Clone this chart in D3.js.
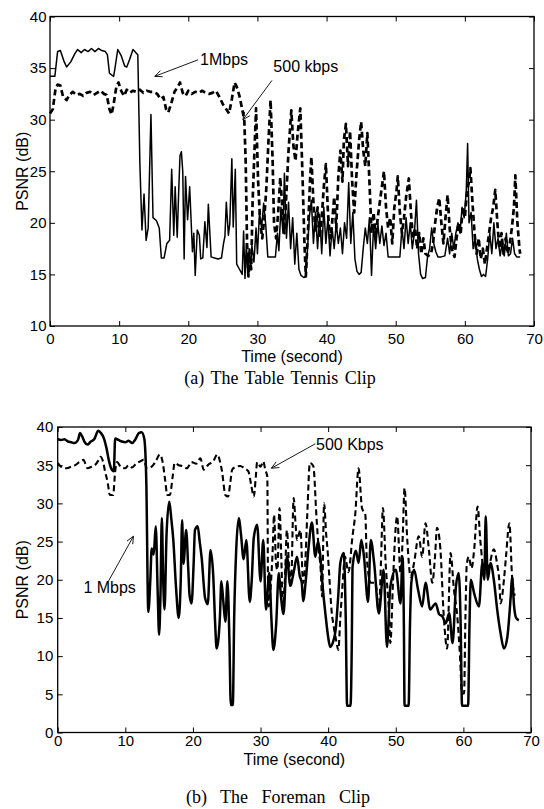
<!DOCTYPE html>
<html>
<head>
<meta charset="utf-8">
<script src="https://cdn.jsdelivr.net/npm/d3@7"></script>
<style>
  body { margin: 0; background: #fff; }
  svg { display: block; }
  text { font-family: "Liberation Sans", Arial, sans-serif; }
</style>
</head>
<body>
<div id="container"></div>
<script>
/** CONSTANTS AND GLOBALS */
const width = 544, height = 809;

const timeTicks = [0, 10, 20, 30, 40, 50, 60, 70];
const tennisTicks = [10, 15, 20, 25, 30, 35, 40];
const foremanTicks = [0, 5, 10, 15, 20, 25, 30, 35, 40];

// (a) Table Tennis, 1 Mbps  [time s, PSNR dB]
const tennis1M = [[0,34.2],[0.7,34.2],[1.1,36.6],[1.5,36.7],[2.0,35.7],[2.4,35.1],[3.0,35.6],[3.6,36.4],[4.0,36.8],[4.5,36.5],[5.0,36.8],[5.5,36.6],[6.0,36.9],[6.5,36.6],[7.0,36.9],[7.5,36.7],[8.0,36.6],[8.3,36.3],[8.6,34.5],[9.2,34.2],[9.4,35.0],[9.8,36.8],[10.3,36.2],[10.8,35.2],[11.1,35.1],[11.5,35.8],[12.0,36.8],[12.4,36.5],[12.7,36.3],[13.0,25.7],[13.3,19.3],[13.6,22.8],[13.9,18.3],[14.2,19.5],[14.6,30.5],[14.9,20.5],[15.4,20.2],[15.8,19.5],[16.1,16.6],[16.5,16.6],[16.9,18.0],[17.3,18.3],[17.6,25.2],[17.9,18.8],[18.1,23.5],[18.4,18.6],[18.6,22.8],[18.8,26.5],[19.0,26.9],[19.2,25.0],[19.4,16.5],[19.6,24.5],[19.9,20.3],[20.2,23.5],[20.6,17.2],[20.8,19.0],[21.0,14.9],[21.3,19.3],[21.6,18.8],[21.8,16.5],[22.1,16.6],[22.4,20.1],[22.7,17.6],[22.9,21.8],[23.3,16.7],[23.8,16.6],[24.3,16.5],[24.8,16.6],[25.1,18.0],[25.3,18.7],[25.5,22.0],[25.8,18.8],[26.0,19.9],[26.3,26.2],[26.5,19.6],[26.8,25.2],[27.0,16.0],[27.4,15.5],[27.8,15.0],[28.0,19.2],[28.2,14.6],[28.4,18.0],[28.6,15.0],[28.8,17.5],[29.0,15.5],[29.2,17.8],[29.5,16.2],[29.8,19.5],[30.0,17.0],[30.3,21.0],[30.6,19.5],[30.9,21.9],[31.2,19.8],[31.5,16.7],[32.0,16.7],[32.6,16.7],[32.9,19.0],[33.1,17.3],[33.4,21.5],[33.7,19.0],[33.9,24.8],[34.2,18.5],[34.5,22.0],[34.8,17.5],[35.1,20.5],[35.4,16.0],[35.7,19.0],[36.0,15.5],[36.3,14.9],[36.7,14.7],[37.0,14.8],[37.2,17.0],[37.5,20.5],[37.8,22.2],[38.1,18.0],[38.4,21.0],[38.7,17.5],[39.0,20.8],[39.3,17.0],[39.6,21.5],[39.9,18.0],[40.2,20.5],[40.5,16.8],[40.8,19.5],[41.1,17.5],[41.4,20.0],[41.7,18.0],[42.0,19.5],[42.3,17.0],[42.6,20.0],[42.9,18.5],[43.2,23.9],[43.5,18.0],[43.8,21.0],[44.1,16.5],[44.4,15.3],[44.7,15.0],[45.0,15.2],[45.3,17.5],[45.6,19.5],[45.9,18.0],[46.2,20.5],[46.5,14.9],[46.8,19.8],[47.1,17.5],[47.4,20.0],[47.7,18.0],[48.0,19.7],[48.3,17.8],[48.6,19.0],[48.9,16.7],[49.5,16.7],[50.0,16.7],[50.6,16.7],[50.9,19.5],[51.2,17.5],[51.5,20.5],[51.8,18.0],[52.1,20.0],[52.4,17.5],[52.7,19.0],[53.0,22.2],[53.3,17.0],[53.6,15.0],[53.9,14.6],[54.3,14.7],[54.6,16.7],[54.9,17.5],[55.2,19.5],[55.5,18.0],[55.8,17.2],[56.1,16.7],[56.6,16.7],[57.1,16.8],[57.5,18.5],[57.8,17.0],[58.1,19.0],[58.4,17.5],[58.7,19.0],[59.0,20.0],[59.3,19.0],[59.6,21.5],[59.9,20.5],[60.2,23.0],[60.4,27.7],[60.6,20.0],[60.9,21.0],[61.2,17.5],[61.5,18.5],[61.8,16.5],[62.1,15.5],[62.4,14.8],[62.7,15.0],[63.0,14.8],[63.3,16.5],[63.6,19.0],[63.9,17.0],[64.2,20.0],[64.5,17.5],[64.8,18.5],[65.1,16.8],[65.4,18.0],[65.7,16.8],[66.0,19.0],[66.3,16.8],[66.6,17.0],[66.9,18.5],[67.2,17.0],[67.5,16.7],[68.0,16.7]];

// (a) Table Tennis, 500 kbps
const tennis500k = [[0,30.6],[0.4,31.0],[0.8,33.0],[1.1,33.4],[1.5,33.3],[1.9,32.2],[2.4,31.9],[2.8,32.4],[3.3,32.7],[3.8,32.4],[4.3,32.5],[4.8,32.3],[5.3,32.6],[5.8,32.7],[6.3,32.4],[6.8,32.6],[7.3,32.8],[7.8,32.5],[8.2,32.4],[8.6,31.0],[8.9,30.5],[9.2,31.5],[9.6,33.2],[9.9,33.6],[10.3,32.8],[10.7,32.3],[11.1,32.9],[11.5,32.6],[12.0,32.8],[12.5,32.7],[13.0,32.9],[13.5,32.6],[14.0,32.8],[14.5,32.7],[15.0,32.7],[15.5,32.5],[16.0,32.0],[16.4,32.2],[16.8,31.0],[17.1,30.7],[17.5,31.5],[18.0,32.7],[18.5,33.2],[18.8,33.6],[19.2,32.6],[19.6,32.3],[20.0,32.8],[20.5,32.5],[21.0,32.7],[21.5,32.6],[22.0,32.8],[22.5,32.6],[23.0,32.5],[23.5,32.6],[24.0,32.8],[24.5,32.2],[25.0,31.5],[25.5,31.0],[25.9,30.6],[26.3,32.0],[26.7,33.6],[27.0,33.2],[27.4,32.3],[27.8,31.0],[28.1,30.0],[28.3,26.0],[28.5,18.0],[28.7,14.8],[28.9,16.5],[29.1,15.5],[29.3,22.0],[29.6,27.5],[29.8,31.1],[30.1,24.0],[30.4,20.0],[30.7,18.5],[31.0,20.5],[31.3,23.5],[31.6,28.0],[31.9,31.9],[32.2,26.0],[32.4,20.0],[32.7,18.5],[33.0,21.0],[33.3,24.4],[33.6,21.5],[33.9,19.0],[34.2,23.0],[34.5,27.0],[34.9,30.9],[35.2,27.5],[35.5,26.0],[35.8,28.5],[36.2,31.1],[36.5,25.0],[36.8,18.0],[37.0,14.8],[37.3,19.0],[37.6,24.0],[37.8,26.4],[38.1,22.0],[38.4,19.0],[38.7,21.5],[39.0,18.5],[39.3,20.5],[39.6,23.5],[39.9,25.7],[40.2,21.0],[40.5,18.5],[40.8,20.0],[41.1,22.5],[41.4,19.5],[41.7,24.5],[42.0,27.0],[42.3,24.0],[42.5,28.0],[42.8,29.6],[43.1,25.5],[43.4,28.9],[43.7,24.0],[44.0,21.0],[44.3,24.5],[44.7,28.0],[45.0,29.8],[45.3,27.0],[45.6,25.5],[45.9,28.7],[46.2,24.0],[46.5,19.0],[46.8,21.0],[47.1,18.5],[47.4,20.5],[47.7,22.0],[48.0,23.5],[48.3,25.0],[48.6,21.5],[48.9,19.5],[49.2,20.5],[49.5,18.0],[49.8,21.5],[50.1,23.0],[50.3,24.5],[50.6,21.0],[50.9,19.0],[51.2,20.5],[51.5,22.5],[51.9,24.3],[52.2,21.0],[52.5,18.5],[52.8,19.5],[53.1,17.5],[53.4,19.0],[53.7,17.0],[54.0,18.5],[54.3,17.0],[54.7,16.8],[55.1,17.0],[55.4,18.0],[55.7,20.0],[56.0,21.5],[56.3,22.4],[56.6,20.0],[56.9,18.0],[57.2,20.5],[57.5,22.7],[57.8,19.5],[58.1,17.5],[58.5,16.7],[58.8,18.5],[59.1,20.0],[59.4,19.0],[59.7,21.5],[60.0,20.5],[60.3,23.0],[60.6,24.0],[60.8,25.3],[61.1,22.0],[61.4,19.0],[61.7,17.0],[62.0,18.5],[62.3,16.5],[62.6,17.5],[62.9,16.0],[63.2,17.5],[63.5,19.0],[63.8,20.5],[64.1,21.5],[64.4,23.2],[64.7,20.0],[65.0,17.5],[65.3,19.0],[65.6,17.0],[65.9,18.5],[66.2,17.0],[66.5,18.0],[66.8,19.5],[67.1,21.5],[67.3,24.6],[67.6,20.0],[67.9,17.5],[68.0,17.0]];

// (b) Foreman, 1 Mbps
const foreman1M = [[0,38.4],[0.5,38.3],[1.0,38.4],[1.5,38.1],[2.0,38.0],[2.5,37.9],[3.0,38.3],[3.3,39.2],[3.6,38.8],[4.0,38.0],[4.4,37.7],[4.9,38.1],[5.4,38.4],[6.0,39.5],[6.4,39.2],[6.8,38.6],[7.2,37.3],[7.6,35.5],[7.9,34.6],[8.3,34.2],[8.5,38.5],[9.0,38.3],[9.5,38.1],[10.0,38.0],[10.5,38.2],[11.0,37.9],[11.5,38.4],[12.0,39.2],[12.4,39.3],[12.8,38.5],[13.1,33.0],[13.4,15.8],[13.7,20.0],[13.9,24.1],[14.2,23.3],[14.5,27.0],[14.8,18.0],[15.0,12.8],[15.2,18.0],[15.4,28.1],[15.6,20.0],[15.8,16.1],[16.1,26.0],[16.5,30.2],[16.8,28.0],[17.1,25.2],[17.5,19.0],[17.9,15.0],[18.2,20.0],[18.4,27.8],[18.6,22.1],[19.0,26.5],[19.3,21.6],[19.5,18.0],[19.8,16.9],[20.1,22.0],[20.3,26.5],[20.7,27.0],[21.0,25.0],[21.3,22.8],[21.8,17.6],[22.2,16.8],[22.6,23.9],[23.0,20.6],[23.3,14.0],[23.5,11.0],[23.8,12.5],[24.0,15.3],[24.2,19.8],[24.5,17.1],[24.8,14.5],[25.1,19.8],[25.4,12.0],[25.6,3.6],[25.9,3.6],[26.1,15.0],[26.4,23.9],[26.8,28.1],[27.1,26.0],[27.5,22.7],[27.9,25.2],[28.4,17.1],[28.7,20.0],[29.0,25.5],[29.5,27.2],[30.0,19.8],[30.4,25.2],[30.8,16.1],[31.3,20.9],[31.6,15.0],[31.9,10.8],[32.3,14.0],[32.7,20.9],[33.0,18.0],[33.4,15.5],[33.9,23.1],[34.4,19.2],[34.9,21.0],[35.4,23.0],[35.8,20.5],[36.1,19.6],[36.3,17.2],[36.7,20.0],[37.1,24.2],[37.6,27.5],[38.1,23.0],[38.5,25.0],[38.8,23.5],[39.2,19.0],[39.6,15.5],[40.0,12.5],[40.3,11.2],[40.7,11.8],[41.1,13.4],[41.5,18.0],[41.8,22.2],[42.3,23.5],[42.6,15.0],[42.8,3.5],[43.3,3.5],[43.5,12.0],[43.6,21.6],[44.1,23.8],[44.5,22.2],[44.9,25.2],[45.3,23.0],[45.9,17.1],[46.3,25.2],[46.8,22.2],[47.5,15.6],[48.2,21.3],[48.7,11.2],[49.2,19.1],[50.0,21.3],[50.7,16.9],[51.0,23.0],[51.2,14.0],[51.3,3.5],[51.9,3.5],[52.1,14.0],[52.3,19.6],[52.7,21.3],[53.3,18.7],[53.9,16.5],[54.4,19.6],[55.1,16.1],[55.9,16.9],[56.4,15.5],[56.9,15.2],[57.4,14.3],[57.9,15.6],[58.4,11.7],[58.9,19.1],[59.3,20.9],[59.6,14.0],[59.8,3.5],[60.7,3.5],[60.9,14.0],[61.1,20.0],[61.6,18.2],[62.3,16.5],[62.8,22.2],[63.1,20.0],[63.3,28.3],[63.6,20.0],[64.0,22.2],[64.5,20.0],[65.0,16.1],[65.5,13.0],[66.0,11.0],[66.5,12.5],[67.0,17.8],[67.2,20.4],[67.5,16.5],[67.8,15.0],[68.2,14.7]];

// (b) Foreman, 500 Kbps
const foreman500k = [[0,35.3],[0.5,34.8],[1.3,34.6],[2.0,34.8],[2.6,35.0],[3.2,35.4],[3.8,35.7],[4.4,34.6],[5.0,34.8],[5.5,35.0],[6.0,35.6],[6.3,36.1],[6.7,35.5],[7.0,34.2],[7.4,32.7],[7.7,31.1],[8.2,31.1],[8.5,34.2],[8.8,35.4],[9.3,34.8],[10.0,34.6],[10.5,35.0],[11.0,34.7],[11.6,35.2],[12.2,35.5],[12.7,35.7],[13.2,34.6],[13.9,34.8],[14.5,35.5],[15.1,36.4],[15.5,35.5],[15.9,33.0],[16.2,31.1],[16.6,31.1],[17.0,33.5],[17.3,35.3],[17.9,35.0],[18.4,34.9],[19.1,34.6],[19.8,35.4],[20.5,35.2],[21.1,35.9],[21.6,34.4],[22.3,35.1],[23.0,35.5],[23.6,36.4],[24.0,35.5],[24.3,34.2],[24.8,31.1],[25.2,30.9],[25.5,32.5],[25.8,34.4],[26.4,34.8],[27.0,34.9],[27.6,34.6],[28.2,34.2],[28.6,32.5],[29.0,30.9],[29.3,33.5],[29.5,35.4],[30.0,34.8],[30.4,35.5],[30.7,34.4],[31.0,33.5],[31.1,20.0],[31.2,16.5],[31.5,19.1],[31.8,24.0],[32.0,28.5],[32.3,22.0],[32.5,21.3],[32.8,29.4],[33.1,22.0],[33.3,16.5],[33.6,20.0],[33.9,26.5],[34.2,22.0],[34.5,19.0],[34.9,30.7],[35.2,27.0],[35.4,25.2],[35.9,26.5],[36.3,19.6],[36.6,22.0],[36.9,28.3],[37.3,35.3],[37.8,34.9],[38.3,27.8],[38.6,24.0],[38.9,21.3],[39.1,17.8],[39.4,30.0],[39.7,26.0],[39.9,24.0],[40.2,20.0],[40.5,16.0],[40.8,14.0],[41.2,12.0],[41.5,10.8],[41.8,15.0],[42.1,19.0],[42.5,23.0],[43.0,21.0],[43.6,25.7],[44.0,28.5],[44.5,34.6],[45.0,29.4],[45.5,28.5],[45.7,23.0],[46.3,19.6],[47.0,19.6],[47.5,15.6],[47.8,22.0],[48.1,29.4],[48.5,22.2],[49.0,15.6],[49.2,11.7],[49.6,20.0],[50.0,27.0],[50.2,28.3],[50.7,20.9],[51.0,25.0],[51.3,32.0],[51.7,25.2],[52.2,20.4],[52.7,22.2],[53.4,25.7],[53.9,23.0],[54.4,27.4],[54.9,23.9],[55.4,19.6],[55.8,23.0],[56.1,26.8],[56.6,24.0],[57.1,15.2],[57.6,11.0],[58.1,23.5],[58.6,18.7],[59.1,15.2],[59.5,10.0],[59.8,5.1],[60.1,5.1],[60.3,15.0],[60.5,22.0],[60.8,23.0],[61.2,21.5],[61.6,24.0],[62.1,29.6],[62.5,25.2],[63.1,20.9],[63.8,21.8],[64.5,24.0],[65.0,22.0],[65.3,20.0],[65.5,16.9],[66.0,20.0],[66.3,23.0],[66.8,27.4],[67.2,20.4],[67.6,17.9]];

const svg = d3.select("#container")
  .append("svg")
  .attr("width", width)
  .attr("height", height);

// arrow with open head, in data units of the panel
function arrow(g, x, y, from, to) {
  const x1 = x(from[0]), y1 = y(from[1]), x2 = x(to[0]), y2 = y(to[1]);
  const a = Math.atan2(y2 - y1, x2 - x1), L = 8, w = 0.42;
  g.append("line").attr("x1", x1).attr("y1", y1).attr("x2", x2).attr("y2", y2)
    .attr("stroke", "#000").attr("stroke-width", 0.9);
  g.append("path")
    .attr("d", `M${x2 - L * Math.cos(a - w)},${y2 - L * Math.sin(a - w)}L${x2},${y2}L${x2 - L * Math.cos(a + w)},${y2 - L * Math.sin(a + w)}`)
    .attr("fill", "none").attr("stroke", "#000").attr("stroke-width", 0.9);
}

function panel(opt) {
  const x = d3.scaleLinear().domain([0, 70]).range([opt.left, opt.right]);
  const y = d3.scaleLinear().domain([opt.yTicks[0], opt.yTicks[opt.yTicks.length - 1]]).range([opt.bottom, opt.top]);
  const g = svg.append("g");

  const line = d3.line().x(d => x(d[0])).y(d => y(d[1])).curve(opt.curve);

  g.append("path").datum(opt.dashed)
    .attr("d", line).attr("fill", "none").attr("stroke", "#000")
    .attr("stroke-width", opt.dashWidth).attr("stroke-dasharray", opt.dash)
    .attr("stroke-linejoin", "round");
  g.append("path").datum(opt.solid)
    .attr("d", line).attr("fill", "none").attr("stroke", "#000")
    .attr("stroke-width", opt.solidWidth).attr("stroke-linejoin", "round");

  // axes, ticks pointing inwards
  const fs = 16, tfs = 15;
  const bottomAxis = g.append("g").attr("transform", `translate(0,${opt.bottom})`)
    .call(d3.axisBottom(x).tickValues(timeTicks).tickSize(-5).tickPadding(opt.xPad));
  const topAxis = g.append("g").attr("transform", `translate(0,${opt.top})`)
    .call(d3.axisTop(x).tickValues(timeTicks).tickSize(-5).tickFormat(""));
  const leftAxis = g.append("g").attr("transform", `translate(${opt.left},0)`)
    .call(d3.axisLeft(y).tickValues(opt.yTicks).tickSize(-5).tickPadding(opt.yPad));
  const rightAxis = g.append("g").attr("transform", `translate(${opt.right},0)`)
    .call(d3.axisRight(y).tickValues(opt.yTicks).tickSize(-5).tickFormat(""));

  [bottomAxis, topAxis, leftAxis, rightAxis].forEach(a => {
    a.select(".domain").remove();
    a.selectAll("line").attr("stroke", "#000").attr("stroke-width", 1);
    a.selectAll("text").attr("fill", "#000")
      .style("font-family", '"Liberation Sans", Arial, sans-serif').style("font-size", tfs + "px");
  });

  g.append("rect")
    .attr("x", opt.left).attr("y", opt.top)
    .attr("width", opt.right - opt.left).attr("height", opt.bottom - opt.top)
    .attr("fill", "none").attr("stroke", "#000").attr("stroke-width", 1.3);

  g.append("text")
    .attr("x", (opt.left + opt.right) / 2).attr("y", opt.bottom + opt.xLabelDy)
    .attr("text-anchor", "middle").attr("font-size", fs)
    .text("Time (second)");

  g.append("text")
    .attr("transform", `translate(${opt.yLabelX},${(opt.top + opt.bottom) / 2}) rotate(-90)`)
    .attr("text-anchor", "middle").attr("font-size", fs)
    .text("PSNR (dB)");

  opt.notes.forEach(n => {
    g.append("text").attr("x", x(n.at[0])).attr("y", y(n.at[1]))
      .attr("font-size", fs).text(n.text);
    arrow(g, x, y, n.from, n.to);
  });

  g.append("text")
    .attr("x", opt.captionX).attr("y", opt.captionY)
    .attr("text-anchor", "middle")
    .style("font-family", '"Liberation Serif", "Times New Roman", serif')
    .style("font-size", "18px")
    .style("word-spacing", opt.wordSpacing + "px")
    .text(opt.caption);
}

panel({
  left: 50, right: 534, top: 16.5, bottom: 326,
  yTicks: tennisTicks, yPad: 3.5, xPad: 7.3,
  solid: tennis1M, dashed: tennis500k,
  curve: d3.curveLinear, solidWidth: 1.5, dashWidth: 2.7, dash: "6,3.5",
  xLabelDy: 35.5, yLabelX: 27.5,
  notes: [
    { text: "1Mbps", at: [21.7, 35.3], from: [21.4, 35.8], to: [15.15, 34.2] },
    { text: "500 kbps", at: [32.3, 34.6], from: [32.1, 33.8], to: [27.9, 30.0] }
  ],
  caption: "(a) The Table Tennis Clip", captionX: 280, captionY: 384, wordSpacing: 2
});

panel({
  left: 57.7, right: 531, top: 427, bottom: 732.5,
  yTicks: foremanTicks, yPad: 4.4, xPad: 2.8,
  solid: foreman1M, dashed: foreman500k,
  curve: d3.curveMonotoneX, solidWidth: 2.5, dashWidth: 2.1, dash: "6,3.5",
  xLabelDy: 32, yLabelX: 28,
  notes: [
    { text: "500 Kbps", at: [38.2, 37.0], from: [38.1, 37.8], to: [31.6, 34.6] },
    { text: "1 Mbps", at: [3.8, 18.2], from: [7.5, 19.8], to: [11.2, 25.7] }
  ],
  caption: "(b) The Foreman Clip", captionX: 278, captionY: 803, wordSpacing: 9
});
</script>
</body>
</html>
